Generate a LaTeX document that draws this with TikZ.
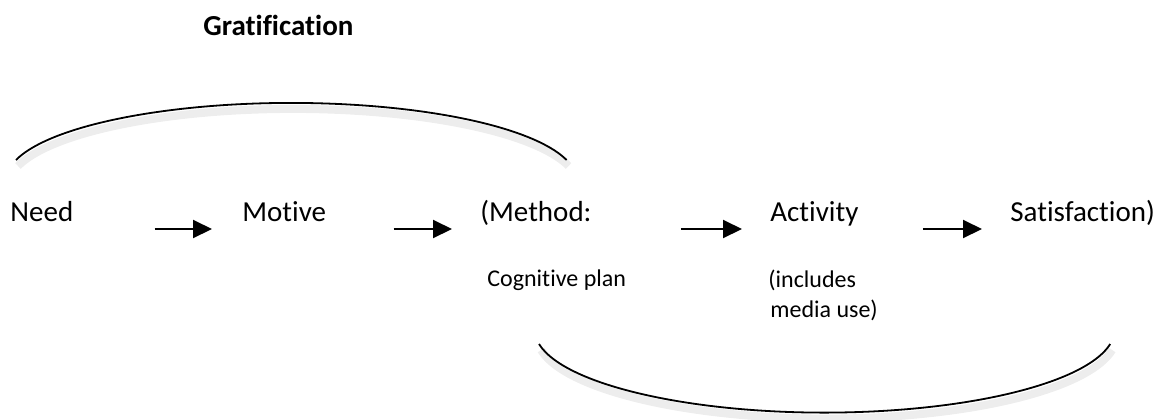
\documentclass[tikz,border=0pt]{standalone}
\usepackage{fontspec}
\setmainfont{Carlito}[Ligatures=NoCommon]
\usetikzlibrary{arrows.meta,calc}
\begin{document}
\begin{tikzpicture}[x=0.5pt, y=-0.5pt, >={Triangle[length=9.5pt,width=9pt]},
  every node/.style={inner sep=0pt, anchor=base west},
  word/.style={font=\fontsize{14.5}{17.4}\selectfont},
  title/.style={font=\fontsize{14.5}{17.4}\selectfont\bfseries},
  note/.style={font=\fontsize{12}{15}\selectfont, align=left},
  arr/.style={->, line width=1pt},
  bow/.style={line width=0.9pt, preaction={draw, black, opacity=0.07, line width=4pt, transform canvas={shift={(1pt,-3pt)}}}}]
\useasboundingbox (0,0) rectangle (1163,419);
\node[title] (grat) at (203,35) {Gratification};
\node[word] (need) at (10,221) {Need};
\node[word] (motive) at (242,221) {Motive};
\node[word] (method) at (480,221) {(Method:};
\node[word] (activity) at (770,221) {Activity};
\node[word] (satis) at (1010,221) {Satisfaction)};
\node[note] (plan) at (487,286) {Cognitive plan};
\node[note] (media) at (768,317) {(includes\\\hspace{1pt}media use)};
\draw[arr] ($(need.base east)+(81,8)$) -- ($(motive.base west)+(-30,8)$);
\draw[arr] ($(motive.base east)+(67,8)$) -- ($(method.base west)+(-28,8)$);
\draw[arr] ($(method.base east)+(89,8)$) -- ($(activity.base west)+(-28,8)$);
\draw[arr] ($(activity.base east)+(64,8)$) -- ($(satis.base west)+(-28,8)$);
% brackets over and under the chain
\draw[bow] (16,160) arc[start angle=195, end angle=345, x radius=285, y radius=77];
\draw[bow] (539,344) arc[start angle=170, end angle=10, x radius=290, y radius=83];
\end{tikzpicture}
\end{document}
